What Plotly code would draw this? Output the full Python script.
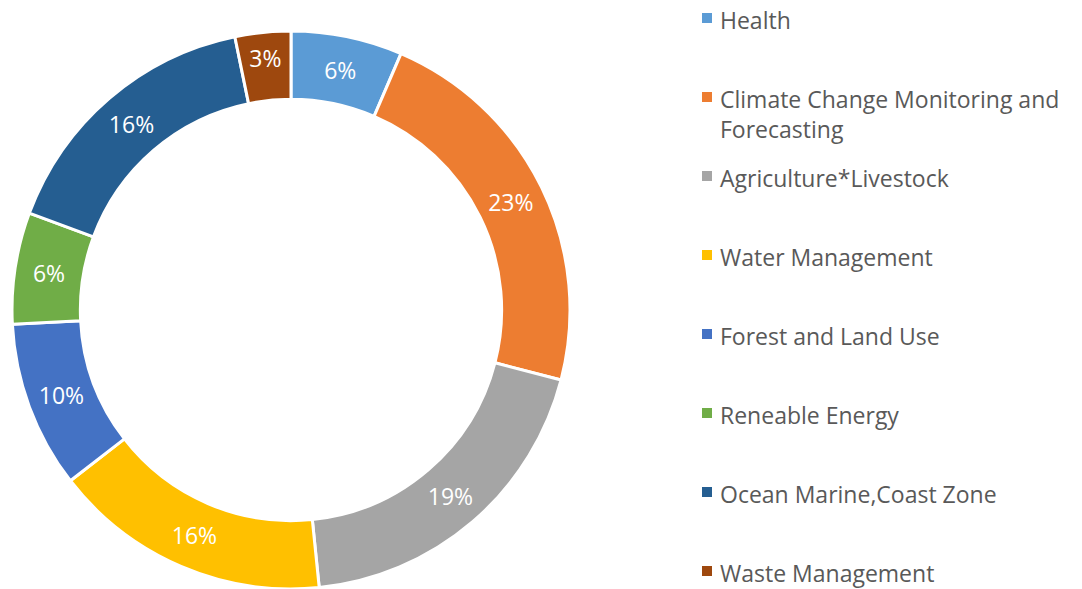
import plotly.graph_objects as go

sectors = [
    "Health",
    "Climate Change Monitoring and Forecasting",
    "Agriculture*Livestock",
    "Water Management",
    "Forest and Land Use",
    "Reneable Energy",
    "Ocean Marine,Coast Zone",
    "Waste Management",
]
# legend text as it wraps in the original
legend_text = [
    "Health",
    "Climate Change Monitoring and<br>Forecasting",
    "Agriculture*Livestock",
    "Water Management",
    "Forest and Land Use",
    "Reneable Energy",
    "Ocean Marine,Coast Zone",
    "Waste Management",
]
projects = [2, 7, 6, 5, 3, 2, 5, 1]
colors = ["#5B9BD5", "#ED7D31", "#A5A5A5", "#FFC000",
          "#4472C4", "#70AD47", "#255E91", "#9E480E"]

W, H = 1082, 589
FONT = "Open Sans, Noto Sans, sans-serif"


def px(x):
    return x / W


def py(y):
    return 1 - y / H


fig = go.Figure(
    go.Pie(
        labels=sectors,
        values=projects,
        hole=0.755,
        sort=False,
        direction="clockwise",
        rotation=0,
        texttemplate="%{percent:.0%}",
        textposition="inside",
        insidetextorientation="horizontal",
        textfont=dict(color="#FFFFFF", size=23, family=FONT),
        marker=dict(colors=colors, line=dict(color="#FFFFFF", width=3)),
        domain=dict(x=[px(12), px(570)], y=[py(589), py(31)]),
        showlegend=False,
        hovertemplate="<b>%{label}</b><br>%{value} (%{percent})<extra></extra>",
    )
)

# legend drawn by hand so the rows keep the original even spacing
row_y = [18 + 79 * i for i in range(len(sectors))]
shapes = []
annotations = []
for name, col, yc in zip(legend_text, colors, row_y):
    shapes.append(dict(
        type="rect", xref="paper", yref="paper",
        x0=px(702), x1=px(712),
        y0=py(yc + 5), y1=py(yc - 5),
        fillcolor=col, line=dict(width=0),
    ))
    annotations.append(dict(
        xref="paper", yref="paper",
        x=px(719), y=py(yc - 15),
        xanchor="left", yanchor="top", align="left",
        text=name, showarrow=False, borderpad=0,
        font=dict(size=23, color="#595959", family=FONT),
    ))

fig.update_layout(
    width=W,
    height=H,
    margin=dict(l=0, r=0, t=0, b=0),
    paper_bgcolor="#FFFFFF",
    plot_bgcolor="#FFFFFF",
    font=dict(family=FONT, color="#595959"),
    shapes=shapes,
    annotations=annotations,
)

# drop the default page margin so the figure sits at the window corner
fig.write_html(
    "out.html",
    config={"displayModeBar": False},
    post_script="document.body.style.margin='0';",
)
